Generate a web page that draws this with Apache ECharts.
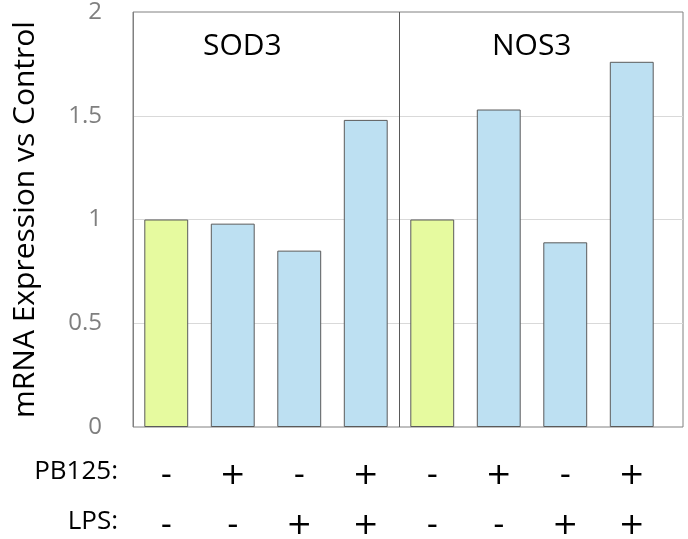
<!DOCTYPE html>
<html>
<head>
<meta charset="utf-8">
<script src="https://cdn.jsdelivr.net/npm/echarts@6/dist/echarts.min.js"></script>
<style>html,body{margin:0;padding:0;background:#fff}#c{width:688px;height:539px}</style>
</head>
<body>
<div id="c"></div>
<script>
const genes = ['SOD3', 'NOS3'];
const categories = ['SOD3 ctrl', 'SOD3 PB125', 'SOD3 LPS', 'SOD3 PB125+LPS',
                    'NOS3 ctrl', 'NOS3 PB125', 'NOS3 LPS', 'NOS3 PB125+LPS'];
const values = [1.0, 0.98, 0.85, 1.48, 1.0, 1.53, 0.89, 1.76];
const pb125 = ['-', '+', '-', '+', '-', '+', '-', '+'];
const lps = ['-', '-', '+', '+', '-', '-', '+', '+'];
const rowNames = ['PB125:', 'LPS:'];
const yMin = 0, yMax = 2, yStep = 0.5;

const chart = echarts.init(document.getElementById('c'), null, {renderer: 'canvas'});
const font = '"Open Sans", "Noto Sans", sans-serif';
const signFont = '"DejaVu Sans", sans-serif';

const option = {
  animation: false,
  backgroundColor: '#ffffff',
  grid: [
    {left: 133, right: 5, top: 12, bottom: 112, show: true, borderColor: '#808080', borderWidth: 1,
     backgroundColor: 'transparent', outerBoundsMode: 'none', containLabel: false},
    {left: 133, width: 532, top: 12, bottom: 112, outerBoundsMode: 'none', containLabel: false}
  ],
  xAxis: [
    {gridIndex: 0, type: 'value', min: 0, max: 1, show: false},
    {gridIndex: 1, type: 'category', data: categories,
     axisLine: {show: false}, axisTick: {show: false},
     axisLabel: {formatter: (v, i) => pb125[i], fontSize: 31, color: '#000', fontFamily: signFont, margin: 33},
     splitLine: {show: true, interval: (i) => i === 0 || i === 4,
                 lineStyle: {color: ['#808080', '#595959', 'rgba(0,0,0,0)'], width: 1}}},
    {gridIndex: 1, type: 'category', data: categories, position: 'bottom', offset: 50,
     axisLine: {show: false}, axisTick: {show: false},
     axisLabel: {formatter: (v, i) => lps[i], fontSize: 31, color: '#000', fontFamily: signFont, margin: 33}}
  ],
  yAxis: [
    {gridIndex: 0, type: 'value', min: yMin, max: yMax, interval: yStep,
     axisLine: {show: false}, axisTick: {show: false},
     axisLabel: {fontSize: 24, color: '#7f7f7f', fontFamily: font, margin: 31},
     splitLine: {show: true, showMinLine: false, showMaxLine: false, lineStyle: {color: '#d9d9d9', width: 1}},
     name: 'mRNA Expression vs Control', nameLocation: 'middle', nameGap: 93, nameRotate: 90,
     nameTextStyle: {fontSize: 30, color: '#000', fontFamily: font}},
    {gridIndex: 1, type: 'value', min: yMin, max: yMax, interval: yStep, show: false, splitLine: {show: false}}
  ],
  series: [{
    type: 'bar',
    xAxisIndex: 1, yAxisIndex: 1,
    data: values,
    barCategoryGap: '34%',
    itemStyle: {
      color: (p) => (pb125[p.dataIndex] === '-' && lps[p.dataIndex] === '-') ? '#e6fa9f' : '#bde0f2',
      borderColor: '#5a5a5a', borderWidth: 1
    }
  }],
  graphic: [
    {type: 'text', left: 203, top: 31, style: {text: genes[0], fontSize: 30, fill: '#000', fontFamily: font}},
    {type: 'text', left: 492, top: 31, style: {text: genes[1], fontSize: 30, fill: '#000', fontFamily: font}},
    {type: 'text', right: 570, top: 459, style: {text: rowNames[0], fontSize: 26, fill: '#000', fontFamily: font}},
    {type: 'text', right: 570, top: 509, style: {text: rowNames[1], fontSize: 26, fill: '#000', fontFamily: font}}
  ]
};
chart.setOption(option);
</script>
</body>
</html>
